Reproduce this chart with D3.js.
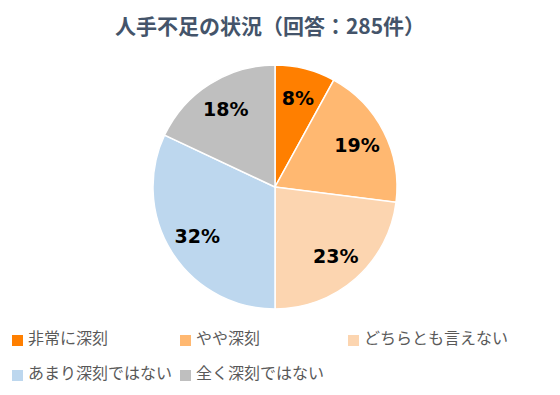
<!DOCTYPE html>
<html>
<head>
<meta charset="utf-8">
<script src="https://cdn.jsdelivr.net/npm/d3@7"></script>
<style>
  body { margin: 0; background: #fff; }
  svg { display: block; font-family: "Noto Sans CJK JP", "Noto Sans", sans-serif; }
</style>
</head>
<body>
<svg id="chart" width="560" height="395"></svg>
<script>
const categories = ['非常に深刻', 'やや深刻', 'どちらとも言えない', 'あまり深刻ではない', '全く深刻ではない']
const percents = [8, 19, 23, 32, 18]
const colors = ['#FF7F00', '#FFB871', '#FCD5B0', '#BDD7EE', '#BFBFBF']
const titleText = '人手不足の状況（回答：285件）'

const width = 560, height = 395
const cx = 275, cy = 187, radius = 122

const svg = d3.select('#chart')

svg.append('text')
    .attr('x', 270)
    .attr('y', 34)
    .attr('text-anchor', 'middle')
    .attr('font-size', 21)
    .attr('font-weight', 'bold')
    .attr('fill', '#44546A')
    .text(titleText)

const data = categories.map((c, i) => ({name: c, value: percents[i], color: colors[i]}))

const pie = d3.pie().value(d => d.value).sort(null)
const arc = d3.arc().innerRadius(0).outerRadius(radius)
const labelArc = d3.arc().innerRadius(92).outerRadius(92)

const g = svg.append('g').attr('transform', `translate(${cx},${cy})`)
const arcs = pie(data)

g.selectAll('path')
    .data(arcs)
    .join('path')
    .attr('d', arc)
    .attr('fill', d => d.data.color)
    .attr('stroke', '#fff')
    .attr('stroke-width', 1.5)

g.selectAll('text')
    .data(arcs)
    .join('text')
    .attr('transform', d => `translate(${labelArc.centroid(d)})`)
    .attr('text-anchor', 'middle')
    .attr('dy', '0.36em')
    .attr('font-family', '"DejaVu Sans", Verdana, sans-serif')
    .attr('font-size', 19)
    .attr('font-weight', 'bold')
    .attr('fill', '#000')
    .text(d => d.data.value + '%')

// legend, 3 columns
const legend = svg.append('g')
const colX = d3.scaleOrdinal().domain([0, 1, 2]).range([12, 180, 348])
const rowY = d3.scaleOrdinal().domain([0, 1]).range([338, 373])

const items = legend.selectAll('g')
    .data(data)
    .join('g')
    .attr('transform', (d, i) => `translate(${colX(i % 3)},${rowY(Math.floor(i / 3))})`)

items.append('rect')
    .attr('x', 0).attr('y', -3)
    .attr('width', 11).attr('height', 11)
    .attr('fill', d => d.color)

items.append('text')
    .attr('x', 16)
    .attr('dy', '0.35em')
    .attr('font-size', 16)
    .attr('fill', '#595959')
    .text(d => d.name)
</script>
</body>
</html>
